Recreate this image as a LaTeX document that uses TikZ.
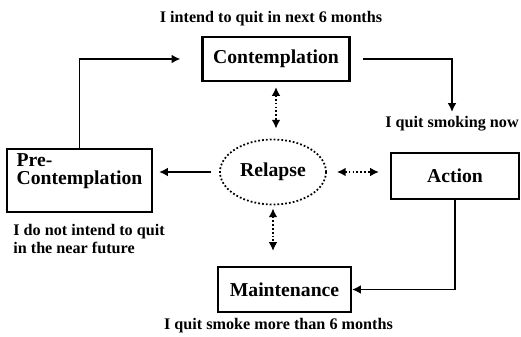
\documentclass[tikz,border=0pt]{standalone}
\usepackage{fontspec}
\setmainfont{Liberation Serif}
\usetikzlibrary{shapes.geometric,arrows.meta}

\begin{document}
\begin{tikzpicture}[
        stage/.style={draw, line width=1.2pt, inner sep=0pt, font=\fontsize{11.2}{11.2}\selectfont\bfseries},
        note/.style={inner sep=0pt, font=\fontsize{9.2}{10.2}\selectfont\bfseries},
        flow/.style={line width=1pt, -{Latex[length=5pt,width=5pt]}},
        dotarrow/.style={line width=1pt, dash pattern=on 1pt off 1.2pt, {Latex[length=5pt,width=5pt]}-{Latex[length=5pt,width=5pt]}}
    ]
                        \useasboundingbox (0, 0) rectangle (10.42, 6.72);

                        \node (contemplation) at (5.52, 5.54) [stage, minimum width=2.94cm, minimum height=0.88cm] {Contemplation};
                        \node (pre) at (1.59, 3.11) [stage, minimum width=2.9cm, minimum height=1.26cm, inner ysep=0.08cm, text depth=0.46cm, align=left, font=\fontsize{11.2}{10.4}\selectfont\bfseries] {Pre-\\Contemplation};
                        \node (relapse) at (5.46, 3.28) [ellipse, draw, line width=1pt, dash pattern=on 1pt off 1.2pt, minimum width=2.12cm, minimum height=1.3cm, inner sep=0pt, font=\fontsize{11.2}{11.2}\selectfont\bfseries] {Relapse};
                        \node (action) at (9.1, 3.2) [stage, minimum width=2.56cm, minimum height=0.92cm] {Action};
                        \node (maintenance) at (5.69, 0.93) [stage, minimum width=2.66cm, minimum height=0.9cm] {Maintenance};

                        \node (intend) at (5.42, 6.34) [note] {I intend to quit in next 6 months};
                        \node (now) at (9.04, 4.24) [note] {I quit smoking now};
                        \node (notintend) at (0.26, 1.94) [note, anchor=west, align=left] {I do not intend to quit\\in the near future};
                        \node (more) at (5.57, 0.2) [note] {I quit smoke more than 6 months};

                        \coordinate (down) at (9.04, 4.48);

                        \draw[flow] (pre.north) |- ([xshift=-0.42cm]contemplation.west);
                        \draw[flow] ([xshift=0.24cm]contemplation.east) -| (down);
                        \draw[flow, shorten <=0.16cm, shorten >=0.12cm] (relapse.west) to (relapse.west -| pre.east);
                        \draw[flow] (action.south) |- (maintenance.east);
                        \draw[dotarrow, shorten <=0.1cm, shorten >=0.2cm] (contemplation.south) to (contemplation.south |- relapse.north);
                        \draw[dotarrow, shorten <=0.2cm, shorten >=0.22cm] (relapse.east) to (relapse.east -| action.west);
                        \draw[dotarrow, shorten <=0.06cm, shorten >=0.3cm] (relapse.south) to (relapse.south |- maintenance.north);
                    \end{tikzpicture}
\end{document}
